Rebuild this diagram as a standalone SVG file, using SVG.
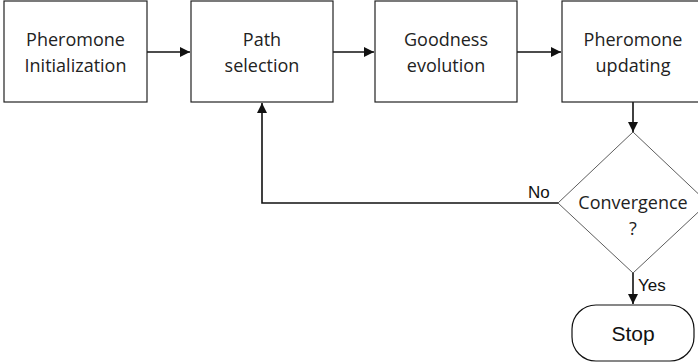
<svg xmlns="http://www.w3.org/2000/svg" width="698" height="364" viewBox="0 0 698 364">
<style>
.box{fill:#fff;stroke:#222;stroke-width:1.2}
.t{font-family:"Open Sans","Liberation Sans",sans-serif;font-size:18px;fill:#222;text-anchor:middle}
.a{font-family:"Liberation Sans",Arial,sans-serif;font-size:17px;fill:#111}
.s{font-family:"Liberation Sans",Arial,sans-serif;font-size:21px;fill:#111;text-anchor:middle}
.c{fill:none;stroke:#111;stroke-width:1.6}
</style>
<defs>
<marker id="ah" viewBox="0 0 10 10" refX="10" refY="5" markerWidth="10" markerHeight="10" markerUnits="userSpaceOnUse" orient="auto">
<path d="M0,0 L10,5 L0,10 z" fill="#111"/>
</marker>
</defs>
<rect width="698" height="364" fill="#fff"/>
<g id="connectors">
<line class="c" x1="147" y1="52" x2="190" y2="52" marker-end="url(#ah)"/>
<line class="c" x1="333" y1="52" x2="374" y2="52" marker-end="url(#ah)"/>
<line class="c" x1="517" y1="52" x2="561" y2="52" marker-end="url(#ah)"/>
<line class="c" x1="633" y1="102" x2="633" y2="132" marker-end="url(#ah)"/>
<polyline class="c" points="558,203 262,203 262,103" marker-end="url(#ah)"/>
<line class="c" x1="633" y1="273" x2="633" y2="304" marker-end="url(#ah)"/>
<text class="a" x="528" y="198">No</text>
<text class="a" x="638" y="291">Yes</text>
</g>
<g id="n1">
<rect class="box" x="4" y="1" width="143" height="101"/>
<text class="t" x="75.5" y="46">Pheromone</text>
<text class="t" x="75.5" y="72">Initialization</text>
</g>
<g id="n2">
<rect class="box" x="191" y="1" width="142" height="101"/>
<text class="t" x="262" y="46">Path</text>
<text class="t" x="262" y="72">selection</text>
</g>
<g id="n3">
<rect class="box" x="375" y="1" width="142" height="101"/>
<text class="t" x="446" y="46">Goodness</text>
<text class="t" x="446" y="72">evolution</text>
</g>
<g id="n4">
<rect class="box" x="562" y="1" width="142" height="101"/>
<text class="t" x="633" y="46">Pheromone</text>
<text class="t" x="633" y="72">updating</text>
</g>
<g id="n5">
<polygon fill="#fff" stroke="#333" stroke-width="0.8" points="633,132 708,203 633,273 558,203"/>
<text class="t" x="633" y="209">Convergence</text>
<text class="t" x="633" y="235">?</text>
</g>
<g id="n6">
<rect fill="#fff" stroke="#111" stroke-width="1.2" x="572" y="305" width="122" height="56" rx="24"/>
<text class="s" x="633" y="341">Stop</text>
</g>
</svg>
